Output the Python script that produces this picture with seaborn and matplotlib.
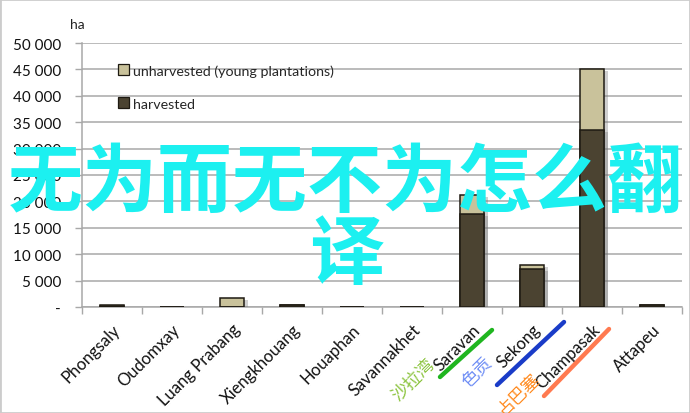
import matplotlib
matplotlib.use("Agg")
import matplotlib.pyplot as plt
import matplotlib.patheffects as pe
from matplotlib.lines import Line2D
from matplotlib.patches import Patch, Rectangle
from matplotlib.ticker import FixedLocator, FuncFormatter
import seaborn as sns

# Rubber plantation area by province (ha)
regions = ["Phongsaly", "Oudomxay", "Luang Prabang", "Xiengkhouang", "Houaphan",
           "Savannakhet", "Saravan", "Sekong", "Champasak", "Attapeu"]
harvested = [200, 0, 0, 300, 0, 0, 17600, 7200, 33600, 450]
unharvested = [200, 0, 1700, 0, 0, 0, 3600, 800, 11400, 0]
totals = [h + u for h, u in zip(harvested, unharvested)]

series_labels = ["unharvested (young plantations)", "harvested"]
y_ticks = list(range(0, 50001, 5000))
y_unit = "ha"
headline = ["无为而无不为怎么翻", "译"]
cn_names = ["沙拉湾", "色贡", "占巴塞"]

LIGHT = "#c9c29b"
DARK = "#4b4331"
GRID = "#a8a8a8"

sns.set_style("white")
plt.rcParams["font.family"] = ["Lato", "DejaVu Sans"]

fig = plt.figure(figsize=(6.9, 4.14), dpi=100)
ax = fig.add_axes([82 / 690, 1 - 308 / 414, 600 / 690, 264 / 414])

shadow = [pe.SimplePatchShadow(offset=(3, -1.5), shadow_rgbFace="#777777", alpha=0.35), pe.Normal()]

sns.barplot(x=regions, y=totals, color=LIGHT, saturation=1, width=0.4,
            edgecolor="#1e1a12", linewidth=1.1, ax=ax, zorder=3)
sns.barplot(x=regions, y=harvested, color=DARK, saturation=1, width=0.4,
            edgecolor="#1e1a12", linewidth=1.1, ax=ax, zorder=4)
for p in ax.patches:
    p.set_path_effects(shadow)

ax.set_xlim(-0.5, len(regions) - 0.5)
ax.set_ylim(0, 50000)
ax.yaxis.set_major_locator(FixedLocator(y_ticks))
ax.yaxis.set_major_formatter(FuncFormatter(
    lambda v, _: "-" if v == 0 else f"{int(v):,}".replace(",", " ")))
ax.grid(axis="y", color=GRID, linewidth=1.1, zorder=0)
ax.set_axisbelow(True)
ax.set_xlabel("")
ax.set_ylabel("")

for side in ("top", "right"):
    ax.spines[side].set_visible(False)
for side in ("left", "bottom"):
    ax.spines[side].set_color(GRID)
    ax.spines[side].set_linewidth(1.1)

ax.tick_params(axis="y", which="major", left=True, length=5, width=1, color=GRID,
               pad=10, labelsize=11, labelcolor="#111111")
ax.set_xticks(range(len(regions)))
ax.set_xticklabels(regions, rotation=45, ha="right", rotation_mode="anchor",
                   fontsize=12, color="#111111")
ax.tick_params(axis="x", which="major", bottom=False, length=0, pad=10)
ax.xaxis.set_minor_locator(FixedLocator([i - 0.5 for i in range(len(regions) + 1)]))
ax.tick_params(axis="x", which="minor", bottom=True, length=5, width=1, color=GRID)

fig.text(77 / 690, 1 - 25 / 414, y_unit, ha="center", va="center", fontsize=10,
         color="#222222")

handles = [Patch(facecolor=LIGHT, edgecolor="#1e1a12", linewidth=0.9),
           Patch(facecolor=DARK, edgecolor="#1e1a12", linewidth=0.9)]
fig.legend(handles, series_labels, loc="upper left",
           bbox_to_anchor=(118 / 690, 1 - 65 / 414), frameon=False, fontsize=10.3,
           handlelength=0.75, handleheight=0.75, handletextpad=0.3,
           labelspacing=1.45, borderpad=0, borderaxespad=0)

# Chinese province names beside the rotated labels
cn_colors = ["#8cc43f", "#6f8ef5", "#ff8a1f"]
cn_pos = [(414, 380), (477, 372), (518, 394)]
for name, col, (px, py) in zip(cn_names, cn_colors, cn_pos):
    fig.text(px / 690, 1 - py / 414, name, rotation=45, rotation_mode="anchor",
             ha="center", va="center", fontsize=12.5, color=col,
             family=["Noto Sans CJK SC", "DejaVu Sans"])

# coloured strokes under the southern provinces
strokes = [((440, 378), (492, 331), "#1fb51f"),
           ((497, 386), (564, 323), "#1a3cc8"),
           ((544, 397), (609, 330), "#ff7a50")]
for (x0, y0), (x1, y1), col in strokes:
    fig.add_artist(Line2D([x0 / 690, x1 / 690], [1 - y0 / 414, 1 - y1 / 414],
                          transform=fig.transFigure, color=col, linewidth=3.2,
                          solid_capstyle="round", zorder=10))

# headline overlay
fig.text(0.5, 1 - 184 / 414, headline[0], ha="center", va="center", fontsize=54,
         color="#1cf0f0", fontweight="bold", zorder=20,
         family=["Noto Sans CJK SC", "DejaVu Sans"])
fig.text(347 / 690, 1 - 256 / 414, headline[1], ha="center", va="center", fontsize=54,
         color="#1cf0f0", fontweight="bold", zorder=20,
         family=["Noto Sans CJK SC", "DejaVu Sans"])

fig.add_artist(Rectangle((0, 0), 1, 1, transform=fig.transFigure, fill=False,
                         edgecolor="#cccccc", linewidth=2))

fig.savefig("out.png", dpi=100)
